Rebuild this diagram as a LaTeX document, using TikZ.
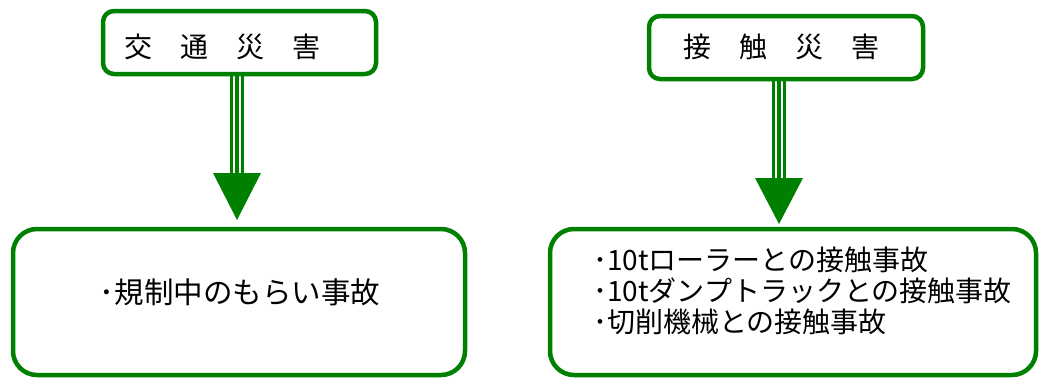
\documentclass[tikz,border=0pt]{standalone}
\usepackage{fontspec}
\newfontfamily\jp{Noto Sans CJK JP}
\definecolor{grn}{HTML}{008000}
\begin{document}
\begin{tikzpicture}[x=1pt,y=-1pt,
  box/.style={draw=grn, line width=4.5pt, fill=white, inner sep=0pt},
  lbl/.style={font=\jp\fontsize{28}{31}\selectfont, text=black, inner sep=0pt},
  biglbl/.style={font=\jp\fontsize{29.5}{31}\selectfont, text=black, inner sep=0pt},
  shaft/.style={draw=grn, line width=3.2pt},
  head/.style={fill=grn}]
\useasboundingbox (0,0) rectangle (1040,378);
% boxes
\node[box, rounded corners=11pt, minimum width=273pt, minimum height=63pt] (lt) at (239.5,42.5) {};
\node[box, rounded corners=11pt, minimum width=274pt, minimum height=63pt] (rt) at (786,47.5) {};
\node[box, rounded corners=24pt, minimum width=452pt, minimum height=146pt] (lb) at (239,302) {};
\node[box, rounded corners=24pt, minimum width=486pt, minimum height=146pt] (rb) at (793,302) {};
% labels
\node[lbl] (ltt) at (222,46.5) {交　通　災　害};
\node[lbl] (rtt) at (781,46.5) {接　触　災　害};
\node[biglbl] (lbt) at (240,292) {･規制中のもらい事故};
\node[lbl, align=left, anchor=west] (rbt) at (593,291) {･10tローラーとの接触事故\\･10tダンプトラックとの接触事故\\･切削機械との接触事故};
% arrow points
\coordinate (la) at (237,173);
\coordinate (lh) at (237,220);
\coordinate (ra) at (779,178);
\coordinate (rh) at (779,224);
% left arrow
\foreach \d in {-5.5,0,5.5}{
  \draw[shaft] ([xshift=\d pt]lt.south -| la) -- ([xshift=\d pt]la);
}
\fill[head] ([xshift=-24pt]la) -- ([xshift=24pt]la) -- (lh) -- cycle;
% right arrow
\foreach \d in {-5.5,0,5.5}{
  \draw[shaft] ([xshift=\d pt]rt.south -| ra) -- ([xshift=\d pt]ra);
}
\fill[head] ([xshift=-24pt]ra) -- ([xshift=24pt]ra) -- (rh) -- cycle;
\end{tikzpicture}
\end{document}
